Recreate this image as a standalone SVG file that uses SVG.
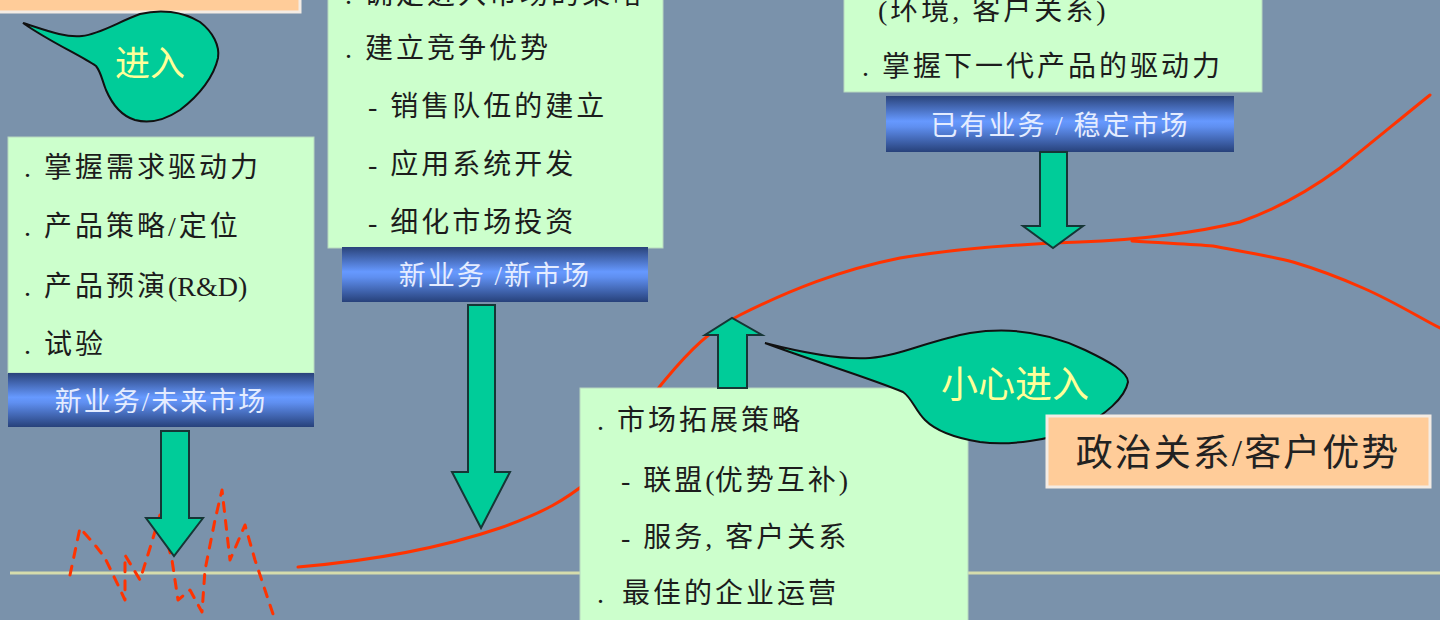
<svg xmlns="http://www.w3.org/2000/svg" width="1440" height="620" viewBox="0 0 1440 620">
<style>
.box{fill:#ccffcc;stroke:#b8d8c0;stroke-width:1}
.txt{font-family:"Liberation Serif","Noto Sans CJK SC",serif;font-size:28px;fill:#1c1c1c;letter-spacing:3px}
.lat{letter-spacing:0px}
.bar{fill:url(#barg)}
.bt{font-family:"Liberation Serif","Noto Sans CJK SC",serif;font-size:27px;fill:#e4ecff;text-anchor:middle;letter-spacing:2px}
.arrow{fill:#00cc99;stroke:#163636;stroke-width:2;stroke-linejoin:miter}
.bubble{fill:#00cc99;stroke:#111;stroke-width:2}
.bubt{font-family:"Liberation Serif","Noto Sans CJK SC",serif;fill:#ffff99;text-anchor:middle}
.orange{fill:#ffcc99;stroke:#f4ece4;stroke-width:3}
.curve{fill:none;stroke:#ff3300;stroke-width:3;stroke-linejoin:round;stroke-linecap:round}
</style>
<defs>
<linearGradient id="barg" x1="0" y1="0" x2="0" y2="1">
<stop offset="0" stop-color="#2a437a"/>
<stop offset="0.45" stop-color="#6699ff"/>
<stop offset="0.55" stop-color="#5f8ff0"/>
<stop offset="1" stop-color="#27417a"/>
</linearGradient>
</defs>
<rect x="0" y="0" width="1440" height="620" fill="#7a92ab"/>
<line x1="10" y1="573" x2="1440" y2="573" stroke="#d6dcac" stroke-width="3"/>

<g id="connectors">
<path class="curve" stroke-dasharray="9 9" d="M70,575 L80,528 L95,545 L105,558 L118,585 L125,600 L125,555 L140,580 L150,548 L160,515 L172,560 L178,600 L190,590 L202,612 L205,570 L215,520 L222,490 L230,560 L245,525 L255,560 L265,590 L275,620"/>
<path class="curve" d="M298,567 C380,560 450,545 500,528 C545,512 565,500 590,480 C620,445 640,410 665,380 C690,350 710,330 740,315 C790,290 840,270 900,258 C960,248 1020,244 1080,242 C1140,240 1200,232 1240,222 C1280,208 1310,190 1340,168 C1375,140 1405,115 1430,95"/>
<path class="curve" d="M1132,241 C1160,243 1190,244 1213,246 C1245,252 1270,256 1293,262 C1320,270 1345,280 1363,288 C1395,302 1420,318 1440,328"/>
</g>

<g id="top-left-note">
<rect class="orange" x="-4" y="-10" width="304" height="22"/>
</g>

<g id="bubble-enter">
<path class="bubble" d="M23,23 C45,30 65,38 82,36 C100,34 118,22 140,14 C160,9 182,11 200,22 C213,32 220,46 218,58 C214,76 200,95 180,110 C165,120 150,124 135,120 C122,116 112,104 106,90 C102,80 101,72 96,66 C80,55 50,42 23,23 Z"/>
<text class="bubt" x="150" y="76" font-size="35">进入</text>
</g>

<g id="node-future">
<rect class="box" x="8" y="137" width="306" height="236"/>
<text class="txt" x="24" y="177">. 掌握需求驱动力</text>
<text class="txt" x="24" y="236">. 产品策略/定位</text>
<text class="txt" x="24" y="296">. 产品预演<tspan class="lat">(R&amp;D)</tspan></text>
<text class="txt" x="24" y="354">. 试验</text>
<rect class="bar" x="8" y="373" width="306" height="54"/>
<text class="bt" x="161" y="411">新业务/未来市场</text>
<path class="arrow" d="M161,431 L189,431 L189,518 L203,518 L174,556 L146,518 L161,518 Z"/>
</g>

<g id="node-new">
<rect class="box" x="328" y="-10" width="335" height="258"/>
<text class="txt" x="345" y="4">. 确定进入市场的策略</text>
<text class="txt" x="345" y="58">. 建立竞争优势</text>
<text class="txt" x="368" y="116">- 销售队伍的建立</text>
<text class="txt" x="368" y="174">- 应用系统开发</text>
<text class="txt" x="368" y="232">- 细化市场投资</text>
<rect class="bar" x="342" y="247" width="306" height="55"/>
<text class="bt" x="495" y="285">新业务 /新市场</text>
<path class="arrow" d="M468,305 L495,305 L495,472 L510,472 L481,528 L452,472 L468,472 Z"/>
</g>

<g id="node-stable">
<rect class="box" x="844" y="-10" width="418" height="102"/>
<text class="txt" x="878" y="20">(环境, 客户关系)</text>
<text class="txt" x="862" y="76">. 掌握下一代产品的驱动力</text>
<rect class="bar" x="886" y="96" width="348" height="56"/>
<text class="bt" x="1060" y="135">已有业务 / 稳定市场</text>
<path class="arrow" d="M1040,152 L1067,152 L1067,226 L1083,226 L1053,248 L1023,226 L1040,226 Z"/>
</g>

<g id="node-expand">
<rect class="box" x="580" y="388" width="388" height="240"/>
<text class="txt" x="597" y="430">. 市场拓展策略</text>
<text class="txt" x="621" y="490">- 联盟<tspan class="lat">(</tspan>优势互补<tspan class="lat">)</tspan></text>
<text class="txt" x="621" y="547">- 服务, 客户关系</text>
<text class="txt" x="597" y="603">.<tspan x="622">最佳的企业运营</tspan></text>
<path class="arrow" d="M718,388 L747,388 L747,335 L762,335 L732,318 L705,335 L718,335 Z"/>
</g>

<g id="bubble-careful">
<path class="bubble" d="M765,343 C800,352 840,360 870,358 C900,356 930,340 970,333 C1010,327 1050,333 1085,350 C1110,362 1128,372 1128,382 C1125,398 1105,415 1080,428 C1050,440 1010,446 980,442 C955,438 935,430 925,420 C915,410 912,398 903,392 C870,378 810,360 765,343 Z"/>
<text class="bubt" x="1015" y="398" font-size="37">小心进入</text>
</g>

<g id="node-politics">
<rect class="orange" x="1047" y="416" width="383" height="71"/>
<text x="1238" y="466" font-family="Liberation Serif, Noto Sans CJK SC, serif" font-size="37" fill="#222" text-anchor="middle" letter-spacing="2">政治关系/客户优势</text>
</g>
</svg>
